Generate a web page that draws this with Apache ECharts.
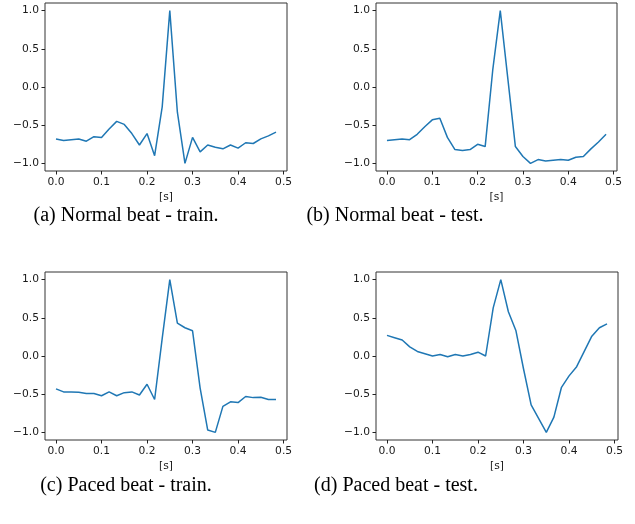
<!DOCTYPE html>
<html>
<head>
<meta charset="utf-8">
<script src="https://cdn.jsdelivr.net/npm/echarts@6/dist/echarts.min.js"></script>
<style>html,body{margin:0;padding:0;background:#fff;}#c{width:635px;height:524px;}</style>
</head>
<body>
<div id="c"></div>
<script>
// time axis: 30 samples at 1/60 s
var timeSec = [0,1,2,3,4,5,6,7,8,9,10,11,12,13,14,15,16,17,18,19,20,21,22,23,24,25,26,27,28,29].map(function(i){return i/60;});
var xTicks = [0, 0.1, 0.2, 0.3, 0.4, 0.5];
var yTicks = [-1, -0.5, 0, 0.5, 1];
var captions = ["(a) Normal beat - train.", "(b) Normal beat - test.", "(c) Paced beat - train.", "(d) Paced beat - test."];

var normalTrain = [-0.68,-0.70,-0.69,-0.68,-0.71,-0.65,-0.66,-0.55,-0.45,-0.49,-0.61,-0.76,-0.61,-0.90,-0.26,1.0,-0.33,-1.0,-0.66,-0.85,-0.76,-0.79,-0.81,-0.76,-0.80,-0.73,-0.74,-0.68,-0.64,-0.59];
var normalTest = [-0.70,-0.69,-0.68,-0.69,-0.62,-0.52,-0.43,-0.41,-0.66,-0.82,-0.83,-0.82,-0.75,-0.78,0.22,1.0,0.11,-0.78,-0.91,-1.0,-0.95,-0.97,-0.96,-0.95,-0.96,-0.92,-0.91,-0.81,-0.72,-0.62];
var pacedTrain = [-0.43,-0.47,-0.47,-0.475,-0.49,-0.49,-0.52,-0.47,-0.52,-0.48,-0.47,-0.51,-0.37,-0.57,0.23,1.0,0.43,0.37,0.33,-0.42,-0.97,-1.0,-0.66,-0.60,-0.61,-0.53,-0.545,-0.54,-0.57,-0.57];
var pacedTest = [0.27,0.24,0.21,0.12,0.06,0.03,0.0,0.02,-0.01,0.02,0.0,0.02,0.05,0.0,0.63,1.0,0.58,0.33,-0.17,-0.64,-0.82,-1.0,-0.80,-0.41,-0.26,-0.14,0.06,0.26,0.37,0.42];

var seriesData = [normalTrain, normalTest, pacedTrain, pacedTest];
var grids = [
  {left:45, top:3, width:242, height:168},
  {left:376, top:3, width:241, height:168},
  {left:45, top:272, width:242, height:168},
  {left:376, top:272, width:242, height:168}
];
var capPos = [[126,216],[395,216],[126,486],[396,486]];

function fmt(v){ return v.toFixed(1).replace('-', '\u2212'); }
var labelStyle = {fontFamily:'DejaVu Sans', fontSize:10.7, color:'#1a1a1a'};

var xRange = timeSec[timeSec.length-1];
var xMin = -0.05*xRange, xMax = xRange*1.05;

var option = {
  animation:false,
  backgroundColor:'#fff',
  grid: grids.map(function(g){ return Object.assign({show:true, borderColor:'#333', borderWidth:1, backgroundColor:'transparent'}, g); }),
  xAxis: grids.map(function(g,i){ return {
    type:'value', gridIndex:i, min:xMin, max:xMax, position:'bottom',
    name:'[s]', nameLocation:'middle', nameGap:21,
    nameTextStyle:{fontFamily:'DejaVu Sans', fontSize:10.7, color:'#1a1a1a'},
    axisLine:{show:false, onZero:false},
    axisTick:{show:true, inside:false, length:3.5, lineStyle:{color:'#222'}, customValues:xTicks},
    axisLabel:Object.assign({margin:6, customValues:xTicks, formatter:fmt}, labelStyle),
    splitLine:{show:false}
  }; }),
  yAxis: grids.map(function(g,i){ return {
    type:'value', gridIndex:i, min:-1.1, max:1.1, position:'left',
    axisLine:{show:false, onZero:false},
    axisTick:{show:true, inside:false, length:3.5, lineStyle:{color:'#222'}, customValues:yTicks},
    axisLabel:Object.assign({margin:6, customValues:yTicks, formatter:fmt}, labelStyle),
    splitLine:{show:false}
  }; }),
  series: seriesData.map(function(d,i){ return {
    type:'line', xAxisIndex:i, yAxisIndex:i, showSymbol:false, symbol:'none',
    lineStyle:{color:'#1f77b4', width:1.5},
    data: d.map(function(v,k){ return [timeSec[k], v]; })
  }; }),
  graphic: captions.map(function(t,i){ return {
    type:'text', x:capPos[i][0], y:capPos[i][1],
    style:{text:t, font:'20px "Liberation Serif"', fill:'#000', align:'center', verticalAlign:'middle'}
  }; })
};

var chart = echarts.init(document.getElementById('c'), null, {renderer:'canvas'});
chart.setOption(option);
</script>
</body>
</html>
